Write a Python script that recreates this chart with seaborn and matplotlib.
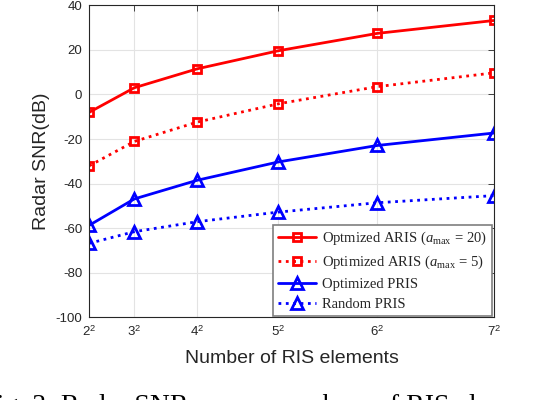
import matplotlib
matplotlib.use("Agg")
import matplotlib.pyplot as plt
import seaborn as sns
import pandas as pd

# number of RIS elements (N = n^2)
ris_n = [2, 3, 4, 5, 6, 7]
ris_elements = [n * n for n in ris_n]
tick_labels = [r'$\mathsf{2}^{\mathsf{2}}$', r'$\mathsf{3}^{\mathsf{2}}$',
               r'$\mathsf{4}^{\mathsf{2}}$', r'$\mathsf{5}^{\mathsf{2}}$',
               r'$\mathsf{6}^{\mathsf{2}}$', r'$\mathsf{7}^{\mathsf{2}}$']

# radar SNR (dB)
snr_aris_20 = [-8, 3.0, 11.5, 19.6, 27.4, 33.2]
snr_aris_5 = [-32, -21.1, -12.4, -4.2, 3.5, 9.7]
snr_pris_opt = [-58.7, -46.9, -38.5, -30.3, -22.9, -17.3]
snr_pris_rand = [-66.8, -61.6, -57.1, -52.8, -48.6, -45.4]

series_names = [r'Optmized ARIS ($a_{\mathrm{max}}$ = 20)',
                r'Optimized ARIS ($a_{\mathrm{max}}$ = 5)',
                'Optimized PRIS',
                'Random PRIS']

df = pd.concat([
    pd.DataFrame({'N': ris_elements, 'snr': vals, 'scheme': name})
    for name, vals in zip(series_names,
                          [snr_aris_20, snr_aris_5, snr_pris_opt, snr_pris_rand])
])

sns.set_theme(style='whitegrid')
plt.rcParams['font.family'] = ['Liberation Sans', 'DejaVu Sans']
plt.rcParams['mathtext.fontset'] = 'custom'
plt.rcParams['mathtext.rm'] = 'Liberation Serif'
plt.rcParams['mathtext.it'] = 'Liberation Serif:italic'
plt.rcParams['mathtext.sf'] = 'Liberation Sans'
plt.rcParams['axes.unicode_minus'] = False

fig = plt.figure(figsize=(5.38, 4.0), dpi=100)
ax = fig.add_axes([0.166, 0.2068, 0.9188 - 0.166, 0.98675 - 0.2068])

styles = {
    series_names[0]: dict(color='#ff0000', ls='-', marker='s', ms=6),
    series_names[1]: dict(color='#ff0000', ls=':', marker='s', ms=6),
    series_names[2]: dict(color='#0000ff', ls='-', marker='^', ms=8.5),
    series_names[3]: dict(color='#0000ff', ls=':', marker='^', ms=8.5),
}

for name in series_names:
    st = styles[name]
    sub = df[df['scheme'] == name]
    sns.lineplot(data=sub, x='N', y='snr', ax=ax, label=name,
                 color=st['color'], linestyle=st['ls'], marker=st['marker'],
                 markersize=st['ms'], markerfacecolor='none',
                 markeredgecolor=st['color'], markeredgewidth=2,
                 linewidth=2)

ax.set_xlim(4, 49)
ax.set_ylim(-100, 40)
ax.set_xticks(ris_elements)
ax.set_xticklabels(tick_labels)
ax.set_yticks(range(-100, 41, 20))
ax.tick_params(axis='both', labelsize=9.5, colors='#262626', direction='in',
               length=4, width=0.6, top=True, right=True,
               labeltop=False, labelright=False)
ax.tick_params(axis='x', pad=5)
ax.tick_params(axis='y', pad=5)
ax.grid(True, color='#e3e3e3', linewidth=0.8)
for sp in ax.spines.values():
    sp.set_color('#262626')
    sp.set_linewidth(0.8)
ax.set_facecolor('white')

ax.set_xlabel('Number of RIS elements', fontsize=14, color='#262626', labelpad=8)
ax.set_ylabel('Radar SNR(dB)', fontsize=14, color='#262626', labelpad=4)

leg = ax.legend(loc='lower right', bbox_to_anchor=(0.994, 0.004),
                borderaxespad=0, fancybox=False, framealpha=1,
                edgecolor='#7f7f7f', handlelength=2.6, handletextpad=0.4,
                borderpad=0.35, labelspacing=0.45,
                prop={'family': 'Liberation Serif', 'size': 10.5})
leg.get_frame().set_linewidth(1.2)

fig.text(-0.036, -0.032, 'Fig. 3: Radar SNR versus numbers of RIS elements',
         fontsize=20, family='Liberation Serif', color='black',
         ha='left', va='baseline')

fig.savefig('out.png', dpi=100)
